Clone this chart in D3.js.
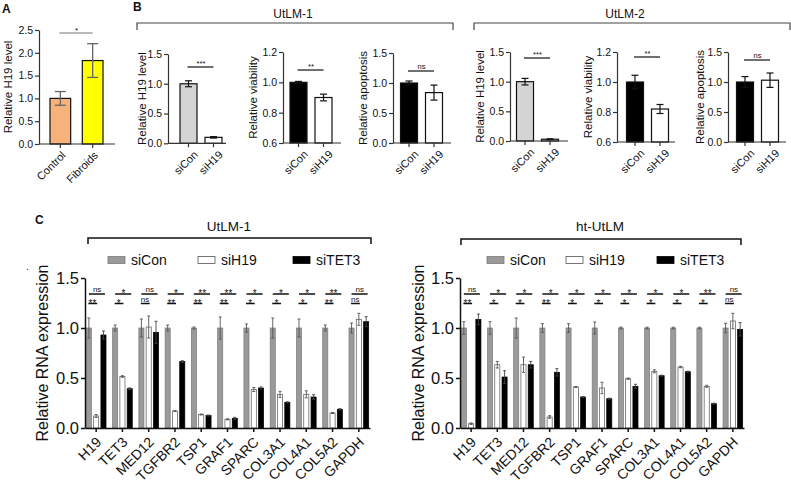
<!DOCTYPE html>
<html><head><meta charset="utf-8">
<script src="https://cdn.jsdelivr.net/npm/d3@7"></script>
<style>
body{margin:0;background:#fff}
svg{display:block}
text{font-family:'Liberation Sans',Arial,Helvetica,sans-serif;fill:#111}
</style>
</head><body>
<svg id="chart" width="791" height="484"></svg>
<script>
// ---------------- DATA ----------------
// Panel A
const aCategories = ["Control", "Fibroids"];
const aValues = [1.0, 1.83];
const aErrors = [0.15, 0.37];
const aTicks = [0, 0.5, 1.0, 1.5, 2.0, 2.5];
const aSig = "*";

// Panel B
const bGroups = ["siCon", "siH19"];
const bCellLines = ["UtLM-1", "UtLM-2"];
const bMeasures = ["Relative H19 level", "Relative viability", "Relative apoptosis"];
const bDomains = [[0, 1.5], [0.6, 1.2], [0, 1.5]];
const bTicks = [[0, 0.5, 1.0, 1.5], [0.6, 0.8, 1.0, 1.2], [0, 0.5, 1.0, 1.5]];
const bUtLM1Values = [[1.0, 0.10], [1.0, 0.90], [1.0, 0.84]];
const bUtLM1Errors = [[0.05, 0.012], [0.006, 0.022], [0.033, 0.125]];
const bUtLM1Sig = ["***", "**", "ns"];
const bUtLM2Values = [[1.0, 0.03], [1.0, 0.82], [1.0, 1.03]];
const bUtLM2Errors = [[0.055, 0.006], [0.045, 0.03], [0.09, 0.12]];
const bUtLM2Sig = ["***", "**", "ns"];

// Panel C
const cGenes = ["H19", "TET3", "MED12", "TGFBR2", "TSP1", "GRAF1", "SPARC", "COL3A1", "COL4A1", "COL5A2", "GAPDH"];
const cSeries = ["siCon", "siH19", "siTET3"];
const cTicks = [0, 0.5, 1.0, 1.5];
const cCellLines = ["UtLM-1", "ht-UtLM"];

const cUtLM1SiCon  = [1.0, 1.0, 1.0, 1.0, 1.0, 1.0, 1.0, 1.0, 1.0, 1.0, 1.0];
const cUtLM1SiH19  = [0.12, 0.515, 1.01, 0.17, 0.135, 0.087, 0.385, 0.337, 0.337, 0.15, 1.087];
const cUtLM1SiTET3 = [0.93, 0.393, 0.957, 0.665, 0.125, 0.097, 0.40, 0.257, 0.31, 0.187, 1.063];
const cUtLM1ErrSiCon  = [0.10, 0.03, 0.09, 0.03, 0.01, 0.11, 0.04, 0.10, 0.09, 0.03, 0.05];
const cUtLM1ErrSiH19  = [0.015, 0.008, 0.11, 0.004, 0.005, 0.005, 0.02, 0.03, 0.035, 0.005, 0.06];
const cUtLM1ErrSiTET3 = [0.04, 0.008, 0.11, 0.008, 0.005, 0.01, 0.01, 0.005, 0.023, 0.007, 0.05];
const cUtLM1SigTop = ["ns", "*", "ns", "*", "**", "**", "*", "*", "*", "**", "ns"];
const cUtLM1SigBot = ["**", "*", "ns", "**", "**", "**", "*", "*", "*", "**", "ns"];

const cHtSiCon  = [1.0, 1.0, 1.0, 1.0, 1.0, 1.0, 1.0, 1.0, 1.0, 1.0, 1.0];
const cHtSiH19  = [0.043, 0.633, 0.633, 0.11, 0.41, 0.40, 0.493, 0.567, 0.61, 0.417, 1.07];
const cHtSiTET3 = [1.087, 0.51, 0.633, 0.557, 0.31, 0.293, 0.417, 0.523, 0.563, 0.243, 0.987];
const cHtErrSiCon  = [0.063, 0.063, 0.10, 0.043, 0.043, 0.06, 0.01, 0.008, 0.008, 0.008, 0.047];
const cHtErrSiH19  = [0.008, 0.033, 0.077, 0.013, 0.005, 0.057, 0.007, 0.015, 0.007, 0.01, 0.077];
const cHtErrSiTET3 = [0.053, 0.063, 0.033, 0.037, 0.005, 0.005, 0.02, 0.005, 0.005, 0.005, 0.067];
const cHtSigTop = ["ns", "*", "*", "*", "*", "*", "*", "*", "*", "**", "ns"];
const cHtSigBot = ["**", "*", "*", "**", "*", "*", "*", "*", "*", "*", "ns"];

// ---------------- DRAWING ----------------
const svg = d3.select("#chart");
const fmt = d3.format(".1f");

function styleAxis(g, sw, col) {
  g.select(".domain").attr("stroke", col).attr("stroke-width", sw);
  g.selectAll(".tick line").attr("stroke", col).attr("stroke-width", sw);
  g.selectAll(".tick text").attr("fill", "#111").attr("font-family", null);
}

function errBar(g, cx, y, v, e, cap, col, sw) {
  g.append("line").attr("x1", cx).attr("x2", cx).attr("y1", y(v - e)).attr("y2", y(v + e))
    .attr("stroke", col).attr("stroke-width", sw);
  g.append("line").attr("x1", cx - cap / 2).attr("x2", cx + cap / 2).attr("y1", y(v + e)).attr("y2", y(v + e))
    .attr("stroke", col).attr("stroke-width", sw);
  g.append("line").attr("x1", cx - cap / 2).attr("x2", cx + cap / 2).attr("y1", y(v - e)).attr("y2", y(v - e))
    .attr("stroke", col).attr("stroke-width", sw);
}

function sigText(g, x, lineY, label, starSize, nsSize) {
  if (label === "ns") {
    g.append("text").attr("x", x).attr("y", lineY - 2).attr("text-anchor", "middle")
      .attr("font-size", nsSize).text(label);
  } else {
    g.append("text").attr("x", x).attr("y", lineY + starSize * 0.3).attr("text-anchor", "middle")
      .attr("font-size", starSize).text(label);
  }
}

// Panel letters
svg.append("text").attr("x", 2).attr("y", 13).attr("font-size", 12).attr("font-weight", "bold").text("A");
svg.append("text").attr("x", 133).attr("y", 10.5).attr("font-size", 12).attr("font-weight", "bold").text("B");
svg.append("text").attr("x", 35).attr("y", 224).attr("font-size", 12).attr("font-weight", "bold").text("C");

// ---- Panel A ----
(function () {
  const g = svg.append("g");
  const y = d3.scaleLinear().domain([0, 2.5]).range([144, 30]);
  const x = d3.scaleBand().domain(aCategories).range([39, 114]).paddingInner(0.36).paddingOuter(0.34);
  const colors = ["#F7B27A", "#FFFF00"];
  aCategories.forEach((c, i) => {
    g.append("rect").attr("x", x(c)).attr("width", x.bandwidth())
      .attr("y", y(aValues[i])).attr("height", y(0) - y(aValues[i]))
      .attr("fill", colors[i]).attr("stroke", "#111").attr("stroke-width", 1.2);
    errBar(g, x(c) + x.bandwidth() / 2, y, aValues[i], aErrors[i], 11, "#666", 1.3);
  });
  const ya = g.append("g").attr("transform", "translate(39,0)")
    .call(d3.axisLeft(y).tickValues(aTicks).tickFormat(fmt).tickSize(4).tickSizeOuter(0).tickPadding(2))
    .attr("font-size", 10.5);
  styleAxis(ya, 1.2, "#333");
  const xa = g.append("g").attr("transform", "translate(0,144)")
    .call(d3.axisBottom(x).tickSize(4).tickSizeOuter(0).tickFormat(""));
  xa.select(".domain").attr("d", "M39,0H115");
  styleAxis(xa, 1.2, "#333");
  aCategories.forEach(c => {
    g.append("text").attr("transform", `translate(${x(c) + x.bandwidth() / 2 + 6},156) rotate(-45)`)
      .attr("text-anchor", "end").attr("font-size", 11).text(c);
  });
  g.append("text").attr("transform", "translate(12,87) rotate(-90)").attr("text-anchor", "middle")
    .attr("font-size", 11.5).text("Relative H19 level");
  const x1 = x(aCategories[0]) + x.bandwidth() / 2, x2 = x(aCategories[1]) + x.bandwidth() / 2;
  g.append("line").attr("x1", x1 - 1).attr("x2", x2).attr("y1", 33).attr("y2", 33).attr("stroke", "#777").attr("stroke-width", 1.2);
  g.append("text").attr("x", (x1 + x2) / 2).attr("y", 33).attr("text-anchor", "middle").attr("font-size", 8).text(aSig);
})();

// ---- Panel B ----
(function () {
  const g = svg.append("g");
  g.append("path").attr("d", "M137,30V23H453V30").attr("fill", "none").attr("stroke", "#444").attr("stroke-width", 1.2);
  g.append("path").attr("d", "M474,30V23H790V30").attr("fill", "none").attr("stroke", "#444").attr("stroke-width", 1.2);
  g.append("text").attr("x", 293).attr("y", 18).attr("text-anchor", "middle").attr("font-size", 12).text(bCellLines[0]);
  g.append("text").attr("x", 625).attr("y", 18).attr("text-anchor", "middle").attr("font-size", 12).text(bCellLines[1]);

  const layout = [
    { x0: 168, c1: 188.5, top: 54, bot: 143.3, sig: 67, tx: 146 },
    { x0: 283, c1: 298.5, top: 52, bot: 143, sig: 70, tx: 257 },
    { x0: 393, c1: 409, top: 53, bot: 143, sig: 71, tx: 367 },
    { x0: 510, c1: 525, top: 52, bot: 141, sig: 58, tx: 484 },
    { x0: 617, c1: 635, top: 52, bot: 142, sig: 57, tx: 592 },
    { x0: 728, c1: 745, top: 52, bot: 142, sig: 60, tx: 704 }
  ];
  const fills = [["#d4d4d4", "#ffffff"], ["#000000", "#ffffff"], ["#000000", "#ffffff"]];
  const values = [bUtLM1Values, bUtLM2Values];
  const errors = [bUtLM1Errors, bUtLM2Errors];
  const sigs = [bUtLM1Sig, bUtLM2Sig];
  layout.forEach((L, k) => {
    const cell = Math.floor(k / 3), m = k % 3;
    const y = d3.scaleLinear().domain(bDomains[m]).range([L.bot, L.top]);
    const x = d3.scalePoint().domain(bGroups).range([L.c1, L.c1 + 25]);
    const bw = 17;
    bGroups.forEach((grp, i) => {
      const v = values[cell][m][i], e = errors[cell][m][i];
      const cx = x(grp);
      g.append("rect").attr("x", cx - bw / 2).attr("width", bw)
        .attr("y", y(v)).attr("height", y(bDomains[m][0]) - y(v))
        .attr("fill", fills[m][i]).attr("stroke", "#111").attr("stroke-width", 1.2);
      errBar(g, cx, y, v, e, 7, "#111", 1.2);
    });
    const ya = g.append("g").attr("transform", `translate(${L.x0},0)`)
      .call(d3.axisLeft(y).tickValues(bTicks[m]).tickFormat(fmt).tickSize(4).tickSizeOuter(0).tickPadding(2))
      .attr("font-size", 10.5);
    styleAxis(ya, 1.2, "#333");
    g.append("line").attr("x1", L.x0).attr("x2", L.x0 + 58).attr("y1", L.bot).attr("y2", L.bot)
      .attr("stroke", "#333").attr("stroke-width", 1.2);
    bGroups.forEach(grp => {
      g.append("line").attr("x1", x(grp)).attr("x2", x(grp)).attr("y1", L.bot).attr("y2", L.bot + 4)
        .attr("stroke", "#333").attr("stroke-width", 1.2);
      g.append("text").attr("transform", `translate(${x(grp) + 10},${L.bot + 12}) rotate(-45)`)
        .attr("text-anchor", "end").attr("font-size", 11).text(grp);
    });
    g.append("text").attr("transform", `translate(${L.tx},${(L.top + L.bot) / 2}) rotate(-90)`)
      .attr("text-anchor", "middle").attr("font-size", 11.5).text(bMeasures[m]);
    g.append("line").attr("x1", x(bGroups[0]) - 1).attr("x2", x(bGroups[1])).attr("y1", L.sig).attr("y2", L.sig)
      .attr("stroke", "#333").attr("stroke-width", 1.4);
    const s = sigs[cell][m];
    g.append("text").attr("x", (x(bGroups[0]) + x(bGroups[1])) / 2).attr("y", s === "ns" ? L.sig - 2.5 : L.sig - 1)
      .attr("text-anchor", "middle").attr("font-size", 7.5).text(s);
  });
})();

// ---- Panel C ----
const cFill = { siCon: "#9a9a9a", siH19: "#ffffff", siTET3: "#000000" };
const cStroke = { siCon: "#7a7a7a", siH19: "#555555", siTET3: "#000000" };

function drawC(cfg) {
  const g = svg.append("g");
  const y = d3.scaleLinear().domain([0, 1.5]).range([428, 278]);
  const x = d3.scaleBand().domain(cGenes).range([cfg.x0, cfg.x1]).paddingInner(0.25).paddingOuter(0.05);
  const xs = d3.scaleBand().domain(cSeries).range([0, x.bandwidth()]).paddingInner(0.3);
  const vals = { siCon: cfg.v[0], siH19: cfg.v[1], siTET3: cfg.v[2] };
  const errs = { siCon: cfg.e[0], siH19: cfg.e[1], siTET3: cfg.e[2] };

  g.append("path").attr("d", cfg.bracket).attr("fill", "none").attr("stroke", "#111").attr("stroke-width", 1.5);
  g.append("text").attr("x", cfg.titleX).attr("y", 231).attr("text-anchor", "middle").attr("font-size", 13.5).text(cfg.title);

  cfg.legend.forEach((lx, i) => {
    const s = cSeries[i];
    g.append("rect").attr("x", lx).attr("y", 256.5).attr("width", 17).attr("height", 7)
      .attr("fill", cFill[s]).attr("stroke", cStroke[s]).attr("stroke-width", 0.8);
    g.append("text").attr("x", lx + 23).attr("y", 265).attr("font-size", 14).text(s);
  });

  cGenes.forEach((gene, i) => {
    cSeries.forEach(s => {
      const v = vals[s][i], e = errs[s][i];
      const bx = x(gene) + xs(s);
      g.append("rect").attr("x", bx).attr("width", xs.bandwidth())
        .attr("y", y(v)).attr("height", y(0) - y(v))
        .attr("fill", cFill[s]).attr("stroke", cStroke[s]).attr("stroke-width", 0.7);
      errBar(g, bx + xs.bandwidth() / 2, y, v, e, 3, s === "siTET3" ? "#444" : "#555", 0.9);
    });
    const cCon = x(gene) + xs("siCon") + xs.bandwidth() / 2;
    const cH = x(gene) + xs("siH19") + xs.bandwidth() / 2;
    const cT = x(gene) + xs("siTET3") + xs.bandwidth() / 2;
    g.append("line").attr("x1", cCon).attr("x2", cT + 1.5).attr("y1", 294).attr("y2", 294)
      .attr("stroke", "#111").attr("stroke-width", 1.5);
    sigText(g, (cCon + cT) / 2 + 1, 294, cfg.sigTop[i], 10, 8);
    g.append("line").attr("x1", cCon - 0.5).attr("x2", cH + 1).attr("y1", 303.5).attr("y2", 303.5)
      .attr("stroke", "#111").attr("stroke-width", 1.5);
    sigText(g, (cCon + cH) / 2, 303.5, cfg.sigBot[i], 10, 8);
  });

  const ya = g.append("g").attr("transform", `translate(${cfg.x0},0)`)
    .call(d3.axisLeft(y).tickValues(cTicks).tickFormat(fmt).tickSize(4).tickSizeOuter(0).tickPadding(2))
    .attr("font-size", 16.5);
  styleAxis(ya, 1.5, "#111");
  const xa = g.append("g").attr("transform", "translate(0,428)")
    .call(d3.axisBottom(x).tickSize(4).tickSizeOuter(0).tickFormat(""));
  styleAxis(xa, 1.5, "#111");
  cGenes.forEach(gene => {
    g.append("text").attr("transform", `translate(${x(gene) + x.bandwidth() / 2 + 6},443) rotate(-45)`)
      .attr("text-anchor", "end").attr("font-size", 14).text(gene);
  });
  g.append("text").attr("transform", `translate(${cfg.titleAxisX},353) rotate(-90)`)
    .attr("text-anchor", "middle").attr("font-size", 16).text("Relative RNA expression");
}

drawC({
  x0: 85, x1: 370, title: cCellLines[0], titleX: 229, bracket: "M88,244V238H371V244",
  legend: [108, 198, 293], titleAxisX: 48,
  v: [cUtLM1SiCon, cUtLM1SiH19, cUtLM1SiTET3],
  e: [cUtLM1ErrSiCon, cUtLM1ErrSiH19, cUtLM1ErrSiTET3],
  sigTop: cUtLM1SigTop, sigBot: cUtLM1SigBot
});
drawC({
  x0: 460, x1: 744, title: cCellLines[1], titleX: 600, bracket: "M461,245V239H741V245",
  legend: [487, 566, 657], titleAxisX: 424,
  v: [cHtSiCon, cHtSiH19, cHtSiTET3],
  e: [cHtErrSiCon, cHtErrSiH19, cHtErrSiTET3],
  sigTop: cHtSigTop, sigBot: cHtSigBot
});

svg.append("text").attr("x", 26).attr("y", 270).attr("font-size", 10).attr("fill", "#555").text(".");
</script>
</body></html>
